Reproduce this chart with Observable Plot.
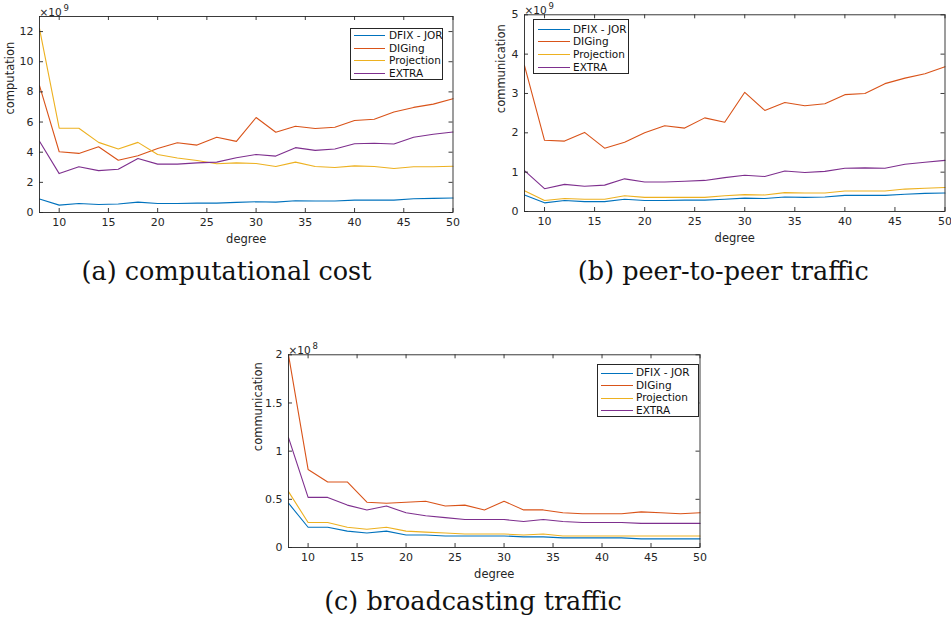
<!DOCTYPE html>
<html><head><meta charset="utf-8">
<script src="https://cdn.jsdelivr.net/npm/d3@7"></script>
<script src="https://cdn.jsdelivr.net/npm/@observablehq/plot@0.6"></script>
<style>
body{margin:0;background:#fff;}
#fig{position:relative;width:951px;height:631px;overflow:hidden;background:#fff;}
.panel{position:absolute;}
.legend{position:absolute;border:1px solid #262626;background:#fff;box-sizing:border-box;font:10.5px "DejaVu Sans",sans-serif;color:#111;}
.legend .row{position:absolute;height:12px;line-height:12px;white-space:nowrap;}
.legend .ln{position:absolute;height:1px;}
#caps{position:absolute;left:0;top:0;}
</style></head><body><div id="fig"><svg id="caps" width="951" height="631"></svg></div>
<script>
// ---- data ----
const degree = [8,10,12,14,16,18,20,22,24,26,28,30,32,34,36,38,40,42,44,46,48,50];
const seriesNames = ["DFIX - JOR","DIGing","Projection","EXTRA"];
const seriesColors = ["#0072BD","#D95319","#EDB120","#7E2F8E"];
const xTicks = [10,15,20,25,30,35,40,45,50];

// (a) computation, x10^9
const compDFIX   = [0.89,0.49,0.60,0.53,0.56,0.69,0.60,0.60,0.62,0.62,0.67,0.71,0.69,0.78,0.76,0.76,0.82,0.82,0.82,0.91,0.94,0.96];
const compDIGing = [8.41,4.03,3.92,4.36,3.47,3.76,4.25,4.63,4.47,4.99,4.72,6.30,5.32,5.72,5.57,5.65,6.10,6.19,6.66,6.97,7.19,7.55];
const compProj   = [12.2,5.59,5.59,4.65,4.21,4.65,3.85,3.61,3.45,3.23,3.29,3.25,3.05,3.34,3.05,2.98,3.09,3.05,2.92,3.03,3.03,3.07];
const compEXTRA  = [4.72,2.58,3.03,2.78,2.87,3.58,3.21,3.21,3.29,3.34,3.63,3.85,3.74,4.30,4.12,4.21,4.56,4.59,4.54,4.99,5.19,5.34];
const compTicks  = [0,2,4,6,8,10,12];

// (b) peer-to-peer communication, x10^9
const p2pDFIX   = [0.42,0.22,0.28,0.25,0.25,0.31,0.28,0.28,0.29,0.29,0.31,0.34,0.33,0.37,0.36,0.37,0.41,0.41,0.41,0.44,0.46,0.47];
const p2pDIGing = [3.71,1.81,1.79,2.01,1.61,1.76,2.00,2.18,2.12,2.38,2.27,3.03,2.57,2.77,2.69,2.74,2.97,3.00,3.25,3.39,3.50,3.68];
const p2pProj   = [0.53,0.28,0.33,0.31,0.31,0.40,0.36,0.36,0.36,0.36,0.40,0.43,0.42,0.48,0.47,0.47,0.52,0.52,0.52,0.57,0.59,0.61];
const p2pEXTRA  = [1.04,0.58,0.69,0.64,0.67,0.83,0.75,0.75,0.77,0.79,0.86,0.92,0.89,1.03,0.99,1.02,1.10,1.11,1.10,1.20,1.25,1.30];
const p2pTicks  = [0,1,2,3,4,5];

// (c) broadcasting communication, x10^8
const bcDFIX   = [0.46,0.21,0.21,0.17,0.15,0.17,0.13,0.13,0.12,0.12,0.12,0.12,0.11,0.11,0.10,0.10,0.10,0.10,0.09,0.09,0.09,0.09];
const bcDIGing = [2.00,0.81,0.68,0.68,0.47,0.46,0.47,0.48,0.43,0.44,0.39,0.48,0.39,0.39,0.36,0.35,0.35,0.35,0.37,0.36,0.35,0.36];
const bcProj   = [0.58,0.26,0.26,0.21,0.19,0.21,0.17,0.16,0.15,0.14,0.14,0.14,0.13,0.14,0.12,0.12,0.12,0.12,0.12,0.12,0.12,0.12];
const bcEXTRA  = [1.14,0.52,0.52,0.44,0.39,0.43,0.36,0.33,0.31,0.29,0.29,0.29,0.27,0.29,0.27,0.26,0.26,0.26,0.25,0.25,0.25,0.25];
const bcTicks  = [0,0.5,1,1.5,2];

const captions = ["(a) computational cost","(b) peer-to-peer traffic","(c) broadcasting traffic"];

// ---- drawing ----
const fig = document.getElementById("fig");
const INK = "#262626";

function panel(cfg) {
  const {left, top, width, height, mL, mR, mT, mB, yDomain, yTicks, yLabel, yLabelOffset, series, expPow, legend} = cfg;
  const rows = [];
  seriesNames.forEach((name, si) => series[si].forEach((v, i) => rows.push({degree: degree[i], value: v, method: name})));
  const innerH = height - mT - mB, innerW = width - mL - mR;
  const chart = Plot.plot({
    width, height, marginLeft: mL, marginRight: mR, marginTop: mT, marginBottom: mB,
    style: {fontFamily: '"DejaVu Sans", sans-serif', fontSize: "11px", color: INK, background: "transparent", overflow: "visible"},
    x: {domain: [8, 50]},
    y: {domain: yDomain},
    color: {domain: seriesNames, range: seriesColors},
    marks: [
      Plot.line(rows, {x: "degree", y: "value", z: "method", stroke: "method", strokeWidth: 1.1}),
      Plot.frame({stroke: INK, strokeWidth: 0.9}),
      Plot.tickX(xTicks, {x: d => d, insetTop: innerH - 4, stroke: INK, strokeWidth: 0.9}),
      Plot.tickX(xTicks, {x: d => d, insetBottom: innerH - 4, stroke: INK, strokeWidth: 0.9}),
      Plot.tickY(yTicks, {y: d => d, insetRight: innerW - 4, stroke: INK, strokeWidth: 0.9}),
      Plot.tickY(yTicks, {y: d => d, insetLeft: innerW - 4, stroke: INK, strokeWidth: 0.9}),
      Plot.axisX({ticks: xTicks, tickSize: 0, tickPadding: 6, label: null, tickFormat: d => String(d), fontSize: 11}),
      Plot.axisY({ticks: yTicks, tickSize: 0, tickPadding: 6, label: null, tickFormat: d => String(d), fontSize: 11}),
      Plot.text(["degree"], {frameAnchor: "bottom", lineAnchor: "middle", dy: 27, fontSize: 11.5, fill: INK}),
      Plot.text([yLabel], {frameAnchor: "left", lineAnchor: "middle", rotate: -90, dx: -yLabelOffset, fontSize: 11.5, fill: INK}),
      Plot.text(["×10"], {frameAnchor: "top-left", textAnchor: "start", lineAnchor: "bottom", dy: -1, fontSize: 10.5, fill: INK}),
      Plot.text([expPow], {frameAnchor: "top-left", textAnchor: "start", lineAnchor: "bottom", dx: 24, dy: -6, fontSize: 8.5, fill: INK})
    ]
  });
  const div = document.createElement("div");
  div.className = "panel";
  div.style.left = left + "px";
  div.style.top = top + "px";
  div.appendChild(chart);
  fig.appendChild(div);

  // legend
  const lg = document.createElement("div");
  lg.className = "legend";
  lg.style.left = legend.x + "px"; lg.style.top = legend.y + "px";
  lg.style.width = legend.w + "px"; lg.style.height = legend.h + "px";
  seriesNames.forEach((name, i) => {
    const cy = legend.r0 + i * legend.dr;
    const ln = document.createElement("div");
    ln.className = "ln";
    ln.style.left = legend.l0 + "px"; ln.style.width = (legend.l1 - legend.l0) + "px";
    ln.style.top = Math.round(cy - 0.5) + "px"; ln.style.background = seriesColors[i];
    lg.appendChild(ln);
    const t = document.createElement("div");
    t.className = "row";
    t.style.left = legend.tx + "px"; t.style.top = (cy - 6.5) + "px";
    t.textContent = name;
    lg.appendChild(t);
  });
  fig.appendChild(lg);
}

panel({left: 0, top: 0, width: 470, height: 250, mL: 39, mR: 17.5, mT: 16, mB: 38,
  yDomain: [0, 13], yTicks: compTicks, yLabel: "computation", yLabelOffset: 29,
  series: [compDFIX, compDIGing, compProj, compEXTRA], expPow: "9",
  legend: {x: 350, y: 28, w: 93, h: 52, r0: 6.5, dr: 12.7, l0: 3, l1: 34, tx: 38}});

panel({left: 480, top: 0, width: 471, height: 250, mL: 44, mR: 6.5, mT: 14.3, mB: 39,
  yDomain: [0, 5], yTicks: p2pTicks, yLabel: "communication", yLabelOffset: 23.5,
  series: [p2pDFIX, p2pDIGing, p2pProj, p2pEXTRA], expPow: "9",
  legend: {x: 533, y: 19, w: 96, h: 55, r0: 9, dr: 12.8, l0: 3.5, l1: 36, tx: 39}});

panel({left: 240, top: 335, width: 470, height: 250, mL: 48, mR: 10.5, mT: 19.3, mB: 38,
  yDomain: [0, 2], yTicks: bcTicks, yLabel: "communication", yLabelOffset: 30.5,
  series: [bcDFIX, bcDIGing, bcProj, bcEXTRA], expPow: "8",
  legend: {x: 597, y: 363.5, w: 102, h: 53, r0: 8.3, dr: 12.5, l0: 3, l1: 35, tx: 38}});

// captions
const caps = d3.select("#caps");
const capPos = [[226.5, 280], [723.3, 280], [473, 610]];
captions.forEach((c, i) => {
  caps.append("text").attr("x", capPos[i][0]).attr("y", capPos[i][1])
    .attr("text-anchor", "middle").attr("font-family", '"DejaVu Serif", serif')
    .attr("font-size", 25.5).attr("fill", "#111").text(c);
});
</script></body></html>
